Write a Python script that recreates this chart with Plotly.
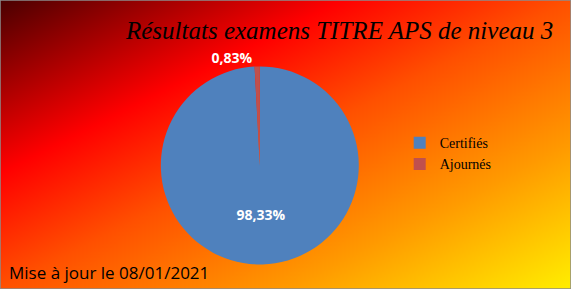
import base64
import plotly.graph_objects as go

# ---- data ----
categories = ["Certifiés", "Ajournés"]
values = [98.33, 0.83]
value_labels = ["98,33%", "0,83%"]
colors = ["#4F81BD", "#C0504D"]

title_text = "Résultats examens TITRE APS de niveau 3"
update_text = "Mise à jour le 08/01/2021"

# ---- background gradient (style) ----
svg = (
    '<svg xmlns="http://www.w3.org/2000/svg" width="571" height="289" viewBox="0 0 571 289" preserveAspectRatio="none">'
    '<defs><linearGradient id="g" x1="0" y1="0" x2="1" y2="1">'
    '<stop offset="0" stop-color="#4a0000"/>'
    '<stop offset="0.3" stop-color="#ff0000"/>'
    '<stop offset="0.5" stop-color="#ff5000"/>'
    '<stop offset="0.75" stop-color="#ff9a00"/>'
    '<stop offset="1" stop-color="#ffee00"/>'
    '</linearGradient></defs>'
    '<rect width="571" height="289" fill="url(#g)"/></svg>'
)
bg_uri = "data:image/svg+xml;base64," + base64.b64encode(svg.encode()).decode()

fig = go.Figure()
fig.add_trace(go.Pie(
    labels=categories,
    values=values,
    text=value_labels,
    texttemplate="%{text}",
    textposition=["inside", "outside"],
    insidetextorientation="horizontal",
    marker=dict(colors=colors, line=dict(width=0)),
    sort=False,
    direction="counterclockwise",
    rotation=0,
    textfont=dict(family="Open Sans", size=14, color="white", weight="bold"),
    outsidetextfont=dict(family="Open Sans", size=14, color="white", weight="bold"),
    domain=dict(x=[0.28, 0.63], y=[0.085, 0.77]),
    hoverinfo="label+text",
))

fig.update_layout(
    width=571, height=289,
    margin=dict(l=0, r=0, t=0, b=0),
    paper_bgcolor="#ff6000",
    showlegend=True,
    legend=dict(
        x=0.70, y=0.56, xanchor="left", yanchor="top",
        font=dict(family="Liberation Serif", size=14, color="black"),
        bgcolor="rgba(0,0,0,0)",
    ),
    images=[dict(
        source=bg_uri, xref="paper", yref="paper", x=0, y=1,
        sizex=1, sizey=1, sizing="stretch", layer="below",
        xanchor="left", yanchor="top",
    )],
    annotations=[
        dict(text=title_text, xref="paper", yref="paper", x=0.972, y=0.895,
             xanchor="right", yanchor="middle", showarrow=False,
             font=dict(family="Liberation Serif", size=25, color="black", style="italic")),
        dict(text=update_text, xref="paper", yref="paper", x=0.012, y=0.058,
             xanchor="left", yanchor="middle", showarrow=False,
             font=dict(family="Open Sans", size=17, color="black")),
    ],
    shapes=[dict(type="rect", xref="paper", yref="paper", x0=0, y0=0, x1=1, y1=1,
                 line=dict(color="#8c8c8c", width=1.5), fillcolor="rgba(0,0,0,0)")],
)

fig.write_html("out.html")
